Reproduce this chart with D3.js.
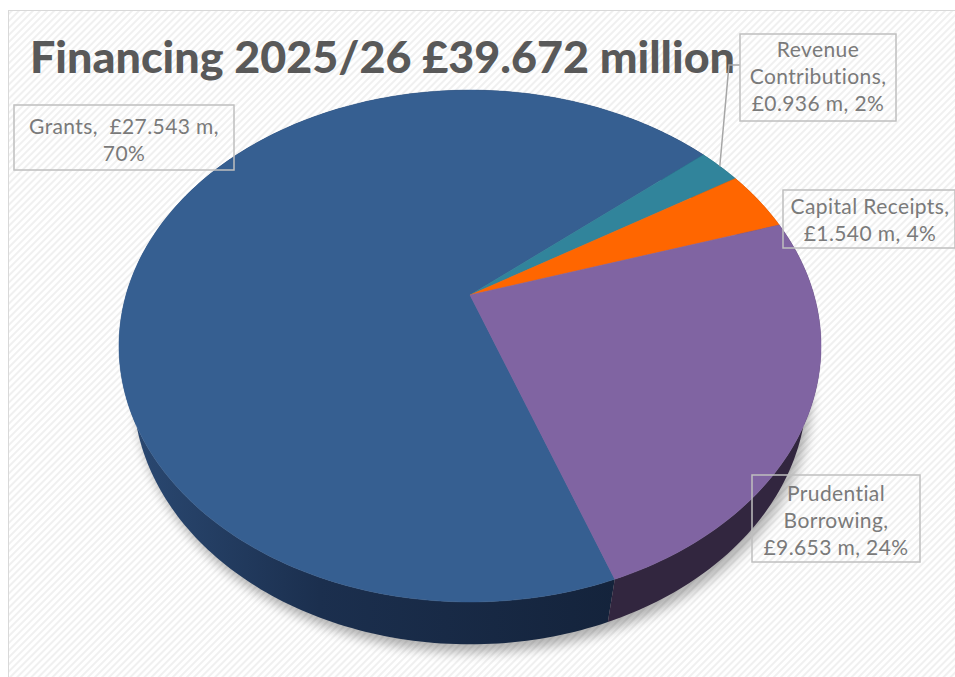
<!DOCTYPE html>
<meta charset="utf-8">
<title>Financing 2025/26</title>
<style>
    body { margin: 0; background: #fff; }
    svg { display: block; }
    text { font-family: Lato, "Open Sans", sans-serif; white-space: pre; }
</style>
<body>
<script src="https://cdn.jsdelivr.net/npm/d3@7"></script>
<script>

    var title = "Financing 2025/26 \u00a339.672 million";
    var categories = ["Grants", "Revenue Contributions", "Capital Receipts", "Prudential Borrowing"];
    var values = [27.543, 0.936, 1.540, 9.653];
    var labelLines = [
        ["Grants,  \u00a327.543 m,", "70%"],
        ["Revenue", "Contributions,", "\u00a30.936 m, 2%"],
        ["Capital Receipts,", "\u00a31.540 m, 4%"],
        ["Prudential", "Borrowing,", "\u00a39.653 m, 24%"]
    ];
    var topColors = ["#365f91", "#31849b", "#ff6600", "#8064a2"];
    var sideColors = ["url(#grantSide)", "#1d4d5a", "#8f3a00", "#32263f"];

    var width = 955, height = 677;

    // simple perspective projection of a tilted disk (radius 1)
    var cx = 470, cy = 295,
        tilt = 45.6 * Math.PI / 180,
        dist = 3.509,
        focal = 1207,
        depth = 0.2;

    function project(theta, r, n) {
        var u = r * Math.sin(theta), v = r * Math.cos(theta);
        var yc = v * Math.sin(tilt) + n * Math.cos(tilt);
        var zc = dist + v * Math.cos(tilt) - n * Math.sin(tilt);
        return [cx + focal * u / zc, cy - focal * yc / zc];
    }

    function rim(a0, a1, n) {
        var steps = Math.max(2, Math.ceil(Math.abs(a1 - a0) / (Math.PI / 180)));
        return d3.range(steps + 1).map(function(i) {
            return project(a0 + (a1 - a0) * i / steps, 1, n);
        });
    }

    var line = d3.line();

    var svg = d3.select("body").append("svg")
        .attr("width", width)
        .attr("height", height);

    var defs = svg.append("defs");

    var pat = defs.append("pattern")
        .attr("id", "stripes")
        .attr("width", 5).attr("height", 5)
        .attr("patternUnits", "userSpaceOnUse")
        .attr("patternTransform", "rotate(45)");
    pat.append("rect").attr("width", 5).attr("height", 5).attr("fill", "#fff");
    pat.append("rect").attr("width", 2).attr("height", 5).attr("fill", "#f0f0f0");

    var grad = defs.append("linearGradient")
        .attr("id", "grantSide")
        .attr("gradientUnits", "userSpaceOnUse")
        .attr("x1", 120).attr("x2", 620).attr("y1", 0).attr("y2", 0);
    grad.append("stop").attr("offset", 0).attr("stop-color", "#2b4a74");
    grad.append("stop").attr("offset", 0.4).attr("stop-color", "#1b2f4e");
    grad.append("stop").attr("offset", 1).attr("stop-color", "#14233b");

    defs.append("filter").attr("id", "blur")
        .attr("x", "-20%").attr("y", "-20%").attr("width", "140%").attr("height", "140%")
        .append("feGaussianBlur").attr("stdDeviation", 6);

    // background with frame
    svg.append("rect")
        .attr("x", 8.5).attr("y", 10.5)
        .attr("width", 960).attr("height", 700)
        .attr("fill", "url(#stripes)")
        .attr("stroke", "#d9d9d9");

    var pie = d3.pie()
        .sort(null)
        .startAngle(160 * Math.PI / 180)
        .endAngle(520 * Math.PI / 180);

    var arcs = pie(values);

    // soft shadow under the pie
    var shadowPts = rim(0, 2 * Math.PI, -depth).map(function(p) { return [p[0] + 4, p[1] + 8]; });
    svg.append("path")
        .attr("d", line(shadowPts) + "Z")
        .attr("fill", "#000")
        .attr("opacity", 0.3)
        .attr("filter", "url(#blur)");

    // outer walls, back to front
    var walls = arcs.map(function(a, i) { return { a: a, i: i }; })
        .sort(function(p, q) {
            return Math.cos((q.a.startAngle + q.a.endAngle) / 2) - Math.cos((p.a.startAngle + p.a.endAngle) / 2);
        });
    svg.append("g").selectAll("path")
        .data(walls)
        .join("path")
        .attr("d", function(d) {
            var top = rim(d.a.startAngle, d.a.endAngle, 0);
            var bottom = rim(d.a.endAngle, d.a.startAngle, -depth);
            return line(top.concat(bottom)) + "Z";
        })
        .attr("fill", function(d) { return sideColors[d.i]; });

    // top faces
    svg.append("g").selectAll("path")
        .data(arcs)
        .join("path")
        .attr("d", function(d) {
            return line([project(0, 0, 0)].concat(rim(d.startAngle, d.endAngle, 0))) + "Z";
        })
        .attr("fill", function(d, i) { return topColors[i]; })
        .attr("stroke", function(d, i) { return topColors[i]; })
        .attr("stroke-width", 0.5);

    // title
    svg.append("text")
        .attr("x", 30).attr("y", 73)
        .attr("font-size", 43)
        .attr("font-weight", 900)
        .attr("fill", "#595959")
        .attr("textLength", 705)
        .attr("lengthAdjust", "spacingAndGlyphs")
        .text(title);

    // leader line for the small slice
    var revMid = (arcs[1].startAngle + arcs[1].endAngle) / 2;
    svg.append("path")
        .attr("d", line([[740, 65], [729, 65], project(revMid, 1, 0)]))
        .attr("fill", "none")
        .attr("stroke", "#a6a6a6")
        .attr("stroke-width", 1.5);

    // label boxes
    var boxes = [
        { x: 14, y: 105, w: 220, h: 65, tx: 124, ty: 134 },
        { x: 740, y: 34, w: 156, h: 87, tx: 818, ty: 57 },
        { x: 783, y: 190, w: 172, h: 58, tx: 870, ty: 214 },
        { x: 752, y: 475, w: 168, h: 87, tx: 836, ty: 501 }
    ];

    var lbl = svg.append("g").selectAll("g")
        .data(categories)
        .join("g");

    lbl.append("rect")
        .attr("x", function(d, i) { return boxes[i].x; })
        .attr("y", function(d, i) { return boxes[i].y; })
        .attr("width", function(d, i) { return boxes[i].w; })
        .attr("height", function(d, i) { return boxes[i].h; })
        .attr("fill", "none")
        .attr("stroke", "#bfbfbf")
        .attr("stroke-width", 1.5);

    lbl.each(function(d, i) {
        d3.select(this).selectAll("text")
            .data(labelLines[i])
            .join("text")
            .attr("x", boxes[i].tx)
            .attr("y", function(t, j) { return boxes[i].ty + j * 27; })
            .attr("text-anchor", "middle")
            .attr("font-size", 21)
            .attr("letter-spacing", 0.4)
            .attr("fill", "#7a7a7a")
            .text(function(t) { return t; });
    });

</script>
</body>
